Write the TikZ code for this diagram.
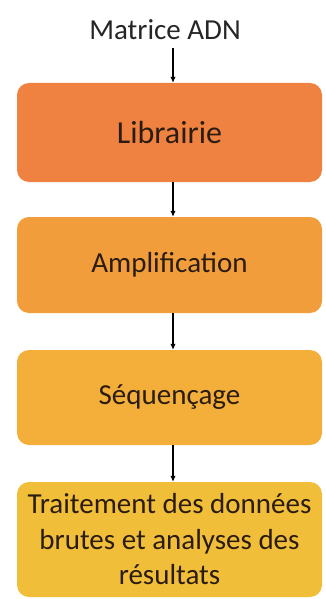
\documentclass[tikz,border=0pt]{standalone}
\usepackage{fontspec}
\setmainfont{Carlito}
\usetikzlibrary{arrows.meta,positioning}

\definecolor{orangeA}{HTML}{EF8240}
\definecolor{orangeB}{HTML}{F29D3C}
\definecolor{orangeC}{HTML}{F3AF3A}
\definecolor{orangeD}{HTML}{F1BE3A}
\definecolor{texte}{HTML}{2B1C12}

\tikzset{
  bloc/.style={rectangle, rounded corners=12pt, minimum width=305pt, inner sep=0pt,
    align=center, text=texte, font=\fontsize{29}{35.5}\selectfont},
  fleche/.style={-{Latex[length=6pt,width=5.5pt]}, line width=1.1pt, black}
}

\begin{document}
\begin{tikzpicture}[x=1pt,y=1pt]
  \useasboundingbox (0,0) rectangle (325,-599);

  %Define nodes
  \node[font=\fontsize{29}{35}\selectfont, text=black!85, inner sep=0pt] (mat) at (165,-30) {Matrice ADN};
  \coordinate (depart) at (173,-48);
  \node[bloc, fill=orangeA, minimum height=99pt, font=\fontsize{32}{38}\selectfont] (lib) at (169.5,-132.5) {Librairie};
  \node[bloc, fill=orangeB, minimum height=96pt] (amp) at (169.5,-265) {Amplification};
  \node[bloc, fill=orangeC, minimum height=95pt] (seq) at (169.5,-397.5) {Séquençage};
  \node[bloc, fill=orangeD, minimum height=115pt] (trt) at (169.5,-539.5) {Traitement des données\\brutes et analyses des\\résultats};

  % Connect the nodes
  \draw[fleche] (depart) -- (depart |- lib.north);
  \draw[fleche] ([xshift=3.5pt]lib.south) -- ([xshift=3.5pt]amp.north);
  \draw[fleche] ([xshift=3.5pt]amp.south) -- ([xshift=3.5pt]seq.north);
  \draw[fleche] ([xshift=3.5pt]seq.south) -- ([xshift=3.5pt]trt.north);

\end{tikzpicture}
\end{document}
